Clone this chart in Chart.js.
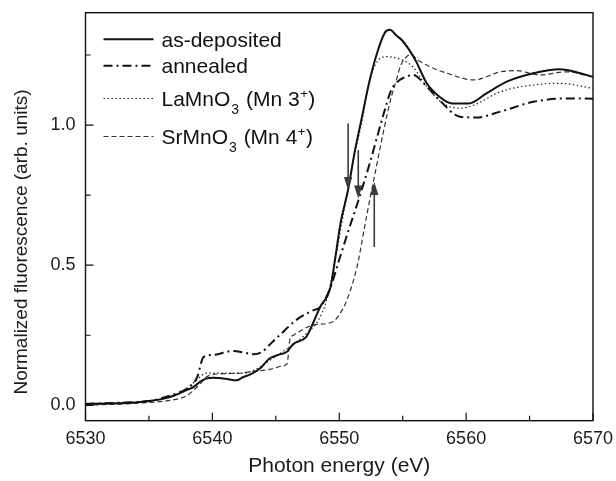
<!DOCTYPE html>
<html>
<head>
<meta charset="utf-8">
<script src="https://cdn.jsdelivr.net/npm/chart.js@4.4.0/dist/chart.umd.min.js"></script>
<style>
  html, body { margin: 0; padding: 0; background: #fff; }
</style>
</head>
<body>
<canvas id="xanes" width="616" height="481"></canvas>
<script>
// --- data (photon energy in eV, normalized fluorescence) ---
const asDepE = [6530, 6532, 6534, 6535, 6536, 6537, 6538, 6538.5, 6539, 6539.5, 6540.1, 6541, 6541.9, 6542.4, 6543, 6543.75, 6544.5, 6545.2, 6545.85, 6546.4, 6547.4, 6548, 6548.5, 6549.3, 6549.7, 6550.1, 6550.7, 6551.2, 6551.75, 6552.4, 6553, 6553.6, 6554, 6554.5, 6555, 6556, 6556.9, 6557.9, 6558.9, 6560.2, 6561.6, 6563.2, 6565.3, 6567.4, 6569, 6570];
const asDepF = [0.005, 0.006, 0.01, 0.015, 0.022, 0.035, 0.055, 0.065, 0.083, 0.095, 0.098, 0.095, 0.089, 0.1, 0.11, 0.131, 0.167, 0.18, 0.19, 0.22, 0.244, 0.3, 0.351, 0.42, 0.53, 0.65, 0.77, 0.9, 1.02, 1.16, 1.26, 1.33, 1.34, 1.32, 1.30, 1.232, 1.149, 1.101, 1.077, 1.077, 1.113, 1.155, 1.185, 1.199, 1.185, 1.172];

const annE = [6530, 6533, 6535, 6536, 6537, 6538, 6538.8, 6539.3, 6540.1, 6541.6, 6542.5, 6543.2, 6543.9, 6544.6, 6545.3, 6546.6, 6547.95, 6548.5, 6549.3, 6550, 6550.7, 6551.5, 6552.4, 6553.5, 6554.1, 6554.6, 6555.3, 6555.8, 6556.9, 6557.9, 6559.5, 6560.8, 6562.7, 6565.3, 6567.9, 6570];
const annF = [0.005, 0.01, 0.015, 0.025, 0.04, 0.06, 0.1, 0.172, 0.18, 0.194, 0.188, 0.182, 0.19, 0.22, 0.25, 0.304, 0.339, 0.35, 0.42, 0.52, 0.62, 0.73, 0.863, 1.04, 1.125, 1.155, 1.173, 1.179, 1.137, 1.089, 1.03, 1.027, 1.048, 1.083, 1.095, 1.094];

const laE = [6530, 6535, 6537, 6538, 6539, 6539.5, 6541, 6542.5, 6543.5, 6544.5, 6545.5, 6546.5, 6547.5, 6548.3, 6549, 6549.6, 6550.2, 6551, 6551.9, 6552.2, 6552.9, 6553.7, 6554.8, 6555.8, 6556.9, 6558.2, 6559.5, 6560.6, 6562.7, 6565.3, 6567.4, 6570];
const laF = [0.005, 0.015, 0.035, 0.06, 0.1, 0.115, 0.115, 0.115, 0.13, 0.16, 0.19, 0.22, 0.26, 0.3, 0.375, 0.5, 0.65, 0.85, 1.04, 1.125, 1.22, 1.244, 1.235, 1.208, 1.137, 1.077, 1.06, 1.071, 1.119, 1.143, 1.149, 1.131];

const srE = [6530, 6535, 6537, 6538, 6539, 6539.5, 6540.5, 6542, 6543, 6544.5, 6545.5, 6545.9, 6546.1, 6546.4, 6547.95, 6549.5, 6550.1, 6550.6, 6551.4, 6552, 6552.4, 6552.7, 6553.5, 6554.1, 6554.5, 6554.8, 6555.3, 6555.7, 6556.2, 6557.3, 6558.5, 6560.6, 6562.7, 6564, 6565.8, 6567.9, 6570];
const srF = [0.0, 0.01, 0.02, 0.035, 0.075, 0.1, 0.112, 0.114, 0.12, 0.128, 0.14, 0.15, 0.232, 0.25, 0.286, 0.298, 0.33, 0.375, 0.494, 0.637, 0.732, 0.80, 0.98, 1.1, 1.16, 1.208, 1.244, 1.25, 1.232, 1.205, 1.185, 1.161, 1.19, 1.194, 1.179, 1.19, 1.172];

// arrows marking the edge positions (energy, start value, tip value)
const arrowE = [6550.7, 6551.5, 6552.76];
const arrowFrom = [1.006, 0.911, 0.565];
const arrowTo = [0.768, 0.738, 0.797];

// axis ticks
const xMajor = [6530, 6540, 6550, 6560, 6570];
const xMinor = [6535, 6545, 6555, 6565];
const yMajor = [0.0, 0.5, 1.0];
const yMinor = [0.25, 0.75, 1.25];

// legend text parts: [main, subscript, middle, superscript, tail]
const legendParts = [
  ['as-deposited', '', '', '', ''],
  ['annealed', '', '', '', ''],
  ['LaMnO', '3', ' (Mn 3', '+', ')'],
  ['SrMnO', '3', ' (Mn 4', '+', ')']
];
const yTitle = 'Normalized fluorescence (arb. units)';

const FONT = '"Liberation Sans", Arial, sans-serif';
const pts = (xs, ys) => xs.map((x, i) => ({ x, y: ys[i] }));

Chart.defaults.font.family = FONT;
Chart.defaults.color = '#1a1a1a';

const series = [
  { data: pts(asDepE, asDepF), borderColor: '#111', borderWidth: 2, borderDash: [] },
  { data: pts(annE, annF), borderColor: '#111', borderWidth: 2, borderDash: [9, 4, 2, 4] },
  { data: pts(laE, laF), borderColor: '#222', borderWidth: 1.2, borderDash: [1.5, 2.5] },
  { data: pts(srE, srF), borderColor: '#333', borderWidth: 1.2, borderDash: [5, 3] }
];

const framePlugin = {
  id: 'frame',
  afterDatasetsDraw(chart) {
    const { ctx, chartArea: a, scales: { x, y } } = chart;
    ctx.save();
    // arrows
    ctx.strokeStyle = '#3a3a3a';
    ctx.fillStyle = '#3a3a3a';
    ctx.lineWidth = 1.6;
    arrowE.forEach((e, i) => {
      const px = x.getPixelForValue(e);
      const y0 = y.getPixelForValue(arrowFrom[i]);
      const y1 = y.getPixelForValue(arrowTo[i]);
      const dir = y1 > y0 ? 1 : -1;
      ctx.beginPath();
      ctx.moveTo(px, y0);
      ctx.lineTo(px, y1 - dir * 10);
      ctx.stroke();
      ctx.beginPath();
      ctx.moveTo(px, y1);
      ctx.lineTo(px - 4.2, y1 - dir * 13);
      ctx.lineTo(px + 4.2, y1 - dir * 13);
      ctx.closePath();
      ctx.fill();
    });
    // frame
    ctx.strokeStyle = '#111';
    ctx.lineWidth = 1.4;
    ctx.strokeRect(a.left, a.top, a.right - a.left, a.bottom - a.top);
    // inward ticks
    ctx.lineWidth = 1.2;
    ctx.beginPath();
    xMajor.forEach(v => { const p = x.getPixelForValue(v); ctx.moveTo(p, a.bottom); ctx.lineTo(p, a.bottom - 8); });
    xMinor.forEach(v => { const p = x.getPixelForValue(v); ctx.moveTo(p, a.bottom); ctx.lineTo(p, a.bottom - 5); });
    yMajor.forEach(v => { const p = y.getPixelForValue(v); ctx.moveTo(a.left, p); ctx.lineTo(a.left + 8, p); });
    yMinor.forEach(v => { const p = y.getPixelForValue(v); ctx.moveTo(a.left, p); ctx.lineTo(a.left + 5, p); });
    ctx.stroke();
    ctx.restore();
  },
  afterDraw(chart) {
    const { ctx, chartArea: a } = chart;
    ctx.save();
    // y-axis title (sits a little below the plot centre in the original)
    ctx.fillStyle = '#1a1a1a';
    ctx.font = '19px ' + FONT;
    ctx.textAlign = 'center';
    ctx.textBaseline = 'middle';
    ctx.translate(22, 242);
    ctx.rotate(-Math.PI / 2);
    ctx.fillText(yTitle, 0, 0);
    ctx.restore();

    // legend with sub/superscripts
    ctx.save();
    const baselines = [46.7, 73.3, 106, 144];
    const x0 = a.left + 18, x1 = a.left + 68, tx = a.left + 76;
    ctx.fillStyle = '#111';
    ctx.textBaseline = 'alphabetic';
    ctx.textAlign = 'left';
    legendParts.forEach((parts, i) => {
      const b = baselines[i];
      const s = series[i];
      ctx.strokeStyle = s.borderColor;
      ctx.lineWidth = s.borderWidth;
      ctx.setLineDash(s.borderDash);
      ctx.beginPath();
      ctx.moveTo(x0, b - 7.5);
      ctx.lineTo(x1, b - 7.5);
      ctx.stroke();
      ctx.setLineDash([]);
      let cx = tx;
      ctx.font = '21px ' + FONT;
      ctx.fillText(parts[0], cx, b); cx += ctx.measureText(parts[0]).width;
      if (parts[1]) {
        ctx.font = '14px ' + FONT;
        ctx.fillText(parts[1], cx + 1, b + 8); cx += ctx.measureText(parts[1]).width + 2;
        ctx.font = '21px ' + FONT;
        ctx.fillText(parts[2], cx, b); cx += ctx.measureText(parts[2]).width;
        ctx.font = '13px ' + FONT;
        ctx.fillText(parts[3], cx + 0.5, b - 8); cx += ctx.measureText(parts[3]).width + 1;
        ctx.font = '21px ' + FONT;
        ctx.fillText(parts[4], cx, b);
      }
    });
    ctx.restore();
  }
};

new Chart(document.getElementById('xanes'), {
  type: 'line',
  data: {
    datasets: series.map(s => ({
      data: s.data,
      borderColor: s.borderColor,
      borderWidth: s.borderWidth,
      borderDash: s.borderDash,
      pointRadius: 0,
      fill: false,
      cubicInterpolationMode: 'monotone'
    }))
  },
  options: {
    responsive: false,
    animation: false,
    layout: { padding: { top: 12.7, right: 23, left: 0, bottom: 0 } },
    plugins: { legend: { display: false }, tooltip: { enabled: false } },
    scales: {
      x: {
        type: 'linear',
        min: 6530, max: 6570,
        grid: { display: false, drawTicks: false },
        border: { display: false },
        afterBuildTicks: sc => { sc.ticks = xMajor.map(v => ({ value: v })); },
        afterFit: sc => { sc.height = 60.3; sc.paddingLeft = 0; sc.paddingRight = 0; },
        ticks: { font: { size: 18 }, padding: 8, maxRotation: 0, callback: v => String(v) },
        title: { display: true, text: 'Photon energy (eV)', font: { size: 21 }, padding: { top: 0, bottom: 2 } }
      },
      y: {
        type: 'linear',
        min: -0.055, max: 1.401,
        grid: { display: false, drawTicks: false },
        border: { display: false },
        afterBuildTicks: sc => { sc.ticks = yMajor.map(v => ({ value: v })); },
        afterFit: sc => { sc.width = 85.5; sc.paddingTop = 0; sc.paddingBottom = 0; },
        ticks: { font: { size: 18 }, padding: 10, callback: v => v.toFixed(1) }
      }
    }
  },
  plugins: [framePlugin]
});
</script>
</body>
</html>
